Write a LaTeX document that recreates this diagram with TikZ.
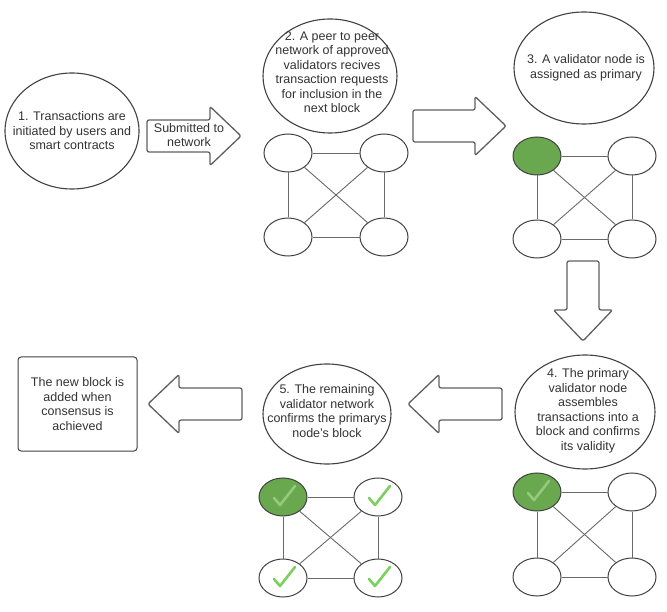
\documentclass[tikz,border=0pt]{standalone}
\usepackage{fontspec}
\setmainfont{Liberation Sans}
\usetikzlibrary{shapes.geometric}

\definecolor{inkgray}{RGB}{65,65,65}
\definecolor{textgray}{RGB}{50,50,50}
\definecolor{arrowgray}{RGB}{95,95,95}
\definecolor{linkgray}{RGB}{105,105,105}
\definecolor{primgreen}{RGB}{106,168,79}
\definecolor{tickpale}{RGB}{150,200,125}
\definecolor{tickbright}{RGB}{122,210,92}

% block arrow: tail point, direction, length
\newcommand{\blockarrow}[3]{%
  \begin{scope}[shift={#1}, rotate=#2]
    \draw[bigarrow] (0,-16) -- (#3-31,-16) -- (#3-31,-29.5) -- (#3,0)
      -- (#3-31,29.5) -- (#3-31,16) -- (0,16) -- cycle;
  \end{scope}}

\begin{document}
\begin{tikzpicture}[x=1pt,y=-1pt,
    every node/.style={font=\fontsize{12.5}{14.5}\selectfont, text=textgray},
    stage/.style={ellipse, draw=inkgray, line width=1.1pt, inner sep=0pt},
    caption/.style={align=center, inner sep=0pt},
    validator/.style={ellipse, draw=inkgray, line width=1pt, fill=white,
      minimum width=48pt, minimum height=38pt, inner sep=0pt},
    primary/.style={validator, fill=primgreen},
    link/.style={draw=linkgray, line width=0.9pt},
    bigarrow/.style={draw=arrowgray, line width=1.3pt, rounded corners=2pt, line join=round},
    tick/.style={line width=2.6pt, line cap=round, line join=round}]
    \useasboundingbox (0,0) rectangle (667,612);

    % stages
    \node[stage, minimum width=134pt, minimum height=116pt] (init) at (72,131) {};
    \node[caption] (init-text) at (init)
        {1. Transactions are\\initiated by users and\\smart contracts};
    \node[stage, minimum width=134pt, minimum height=114pt] (peer) at (330,76) {};
    \node[caption] (peer-text) at (332,72)
        {2. A peer to peer\\network of approved\\validators recives\\transaction requests\\for inclusion in the\\next block};
    \node[stage, minimum width=140pt, minimum height=112pt] (assign) at (584,68) {};
    \node[caption] (assign-text) at (586,68)
        {3. A validator node is\\assigned as primary};
    \node[stage, minimum width=140pt, minimum height=114pt] (assemble) at (585,412) {};
    \node[caption] (assemble-text) at (588,411)
        {4. The primary\\validator node\\assembles\\transactions into a\\block and confirms\\its validity};
    \node[stage, minimum width=128pt, minimum height=100pt] (confirm) at (327,414) {};
    \node[caption] (confirm-text) at (327,411)
        {5. The remaining\\validator network\\confirms the primarys\\node's block};
    \node[draw=inkgray, line width=1pt, rounded corners=3pt, align=center,
        minimum width=119pt, minimum height=94pt] (added) at (77.5,404)
        {The new block is\\added when\\consensus is\\achieved};

    % block arrows between the stages
    \blockarrow{(147,136)}{0}{94}
    \node[caption] (submit) at (189,135) {Submitted to\\network};
    \blockarrow{(413,126)}{0}{93}
    \blockarrow{(583,261)}{-90}{80}
    \blockarrow{(502,404)}{180}{94}
    \blockarrow{(242,404)}{180}{94}

    % validator networks
    \node[validator] (net-tl) at (288,153) {};
    \node[validator] (net-tr) at (384,153) {};
    \node[validator] (net-bl) at (288,237) {};
    \node[validator] (net-br) at (384,237) {};

    \node[primary]   (prim-tl) at (537,156) {};
    \node[validator] (prim-tr) at (632,156) {};
    \node[validator] (prim-bl) at (537,239) {};
    \node[validator] (prim-br) at (632,239) {};

    \node[primary]   (asm-tl) at (537,492) {};
    \node[validator] (asm-tr) at (632,492) {};
    \node[validator] (asm-bl) at (537,577) {};
    \node[validator] (asm-br) at (632,577) {};

    \node[primary]   (conf-tl) at (283,497) {};
    \node[validator] (conf-tr) at (378,497) {};
    \node[validator] (conf-bl) at (283,578) {};
    \node[validator] (conf-br) at (378,578) {};

    \foreach \g in {net,prim,asm,conf}
        \path[link] (\g-tl) edge (\g-tr) edge (\g-bl) edge (\g-br)
                    (\g-br) edge (\g-tr) edge (\g-bl)
                    (\g-tr) edge (\g-bl);

    % confirmations
    \foreach \n/\c in {asm-tl/tickpale, conf-tl/tickpale, conf-tr/tickbright,
                       conf-bl/tickbright, conf-br/tickbright}
        \draw[tick, \c] ([shift={(-9,1)}]\n.center) -- ++(6,7) -- ++(15,-19);
\end{tikzpicture}
\end{document}
